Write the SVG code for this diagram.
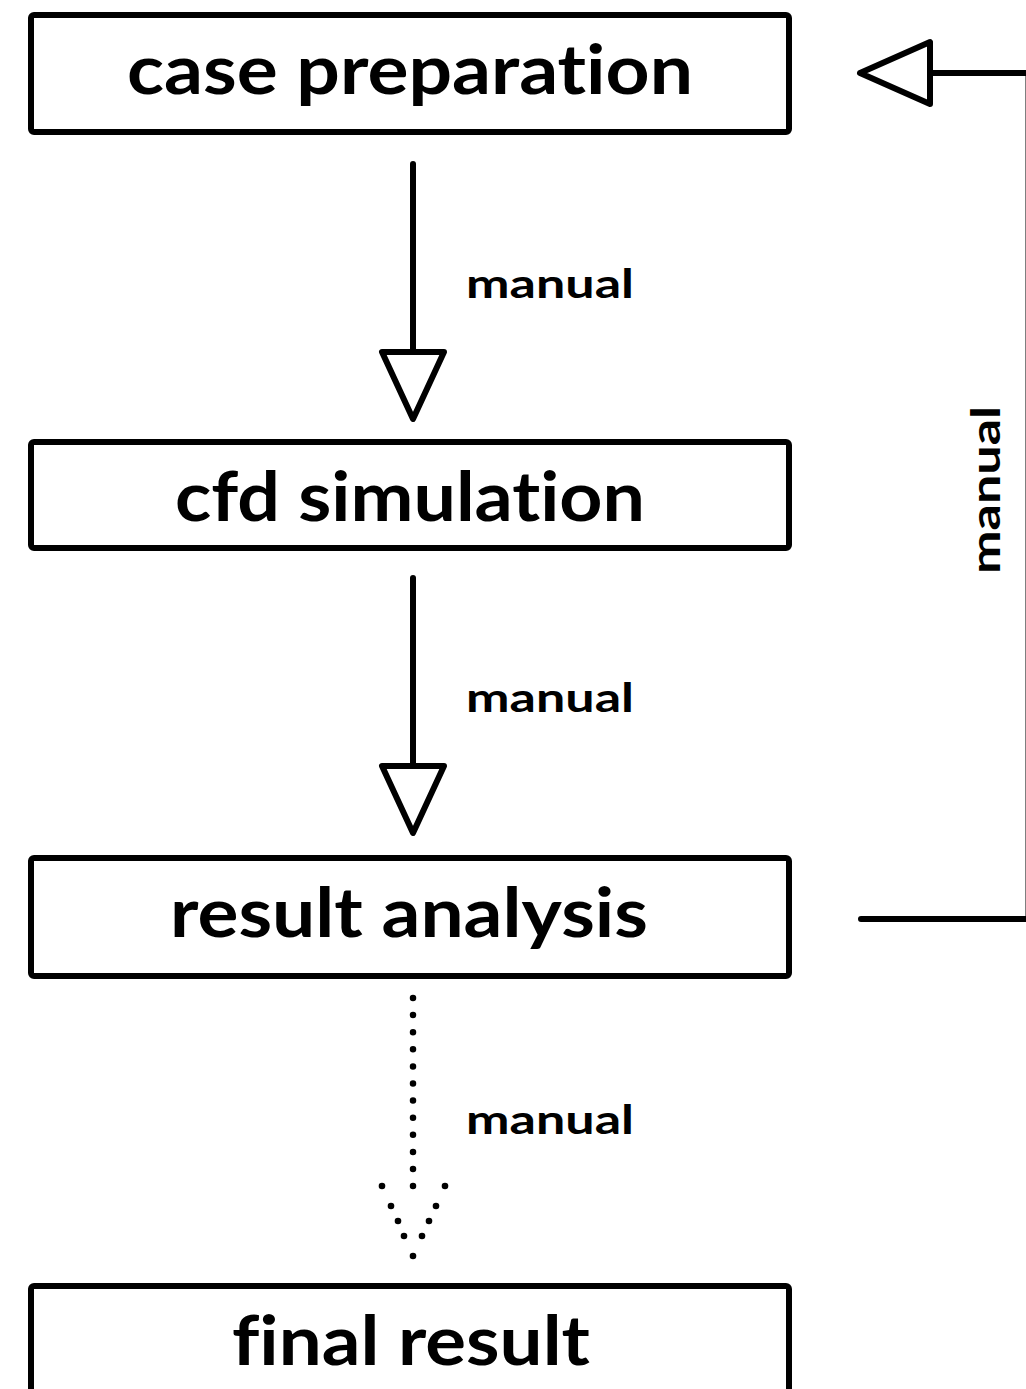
<svg xmlns="http://www.w3.org/2000/svg" width="1026" height="1389" viewBox="0 0 1026 1389">
  <style>
    .box { fill: #ffffff; stroke: #000000; stroke-width: 6; stroke-linejoin: round; }
    .title { font-family: Lato, "Open Sans", "DejaVu Sans", sans-serif; font-weight: 700; font-size: 68px; fill: #000000; text-anchor: middle; font-variant-ligatures: none; }
    .label { font-family: Lato, "Open Sans", "DejaVu Sans", sans-serif; font-weight: 700; font-size: 41px; fill: #000000; font-variant-ligatures: none; }
    .line { fill: none; stroke: #000000; stroke-width: 6; stroke-linecap: round; stroke-linejoin: round; }
    .head { fill: #ffffff; stroke: #000000; stroke-width: 6; stroke-linejoin: round; }
    .dotted { fill: none; stroke: #000000; stroke-width: 6.5; stroke-linecap: round; stroke-dasharray: 0 17.1; }
    .dot { fill: #000000; }
  </style>

  <rect width="1026" height="1389" fill="#ffffff"/>

  <!-- process steps -->
  <g id="case-preparation">
    <rect class="box" x="31" y="15" width="758" height="117" rx="3"/>
    <text class="title" x="410" y="94" textLength="566" lengthAdjust="spacingAndGlyphs">case preparation</text>
  </g>
  <g id="cfd-simulation">
    <rect class="box" x="31" y="442" width="758" height="106" rx="3"/>
    <text class="title" x="410" y="521" textLength="470" lengthAdjust="spacingAndGlyphs">cfd simulation</text>
  </g>
  <g id="result-analysis">
    <rect class="box" x="31" y="858" width="758" height="118" rx="3"/>
    <text class="title" x="409" y="937" textLength="478" lengthAdjust="spacingAndGlyphs">result analysis</text>
  </g>
  <g id="final-result">
    <rect class="box" x="31" y="1286" width="758" height="130" rx="3"/>
    <text class="title" x="411" y="1365" textLength="358" lengthAdjust="spacingAndGlyphs">final result</text>
  </g>

  <!-- connectors -->
  <g id="connectors">
    <!-- case preparation to cfd simulation -->
    <line class="line" x1="413" y1="164" x2="413" y2="352"/>
    <polygon class="head" points="382,352 444,352 413,419"/>
    <text class="label" x="466" y="298" textLength="168" lengthAdjust="spacingAndGlyphs">manual</text>

    <!-- cfd simulation to result analysis -->
    <line class="line" x1="413" y1="578" x2="413" y2="766"/>
    <polygon class="head" points="382,766 444,766 413,833"/>
    <text class="label" x="466" y="712" textLength="168" lengthAdjust="spacingAndGlyphs">manual</text>

    <!-- result analysis to final result (dotted) -->
    <line class="dotted" x1="413" y1="998" x2="413" y2="1187"/>
    <g id="dotted-head">
      <circle class="dot" cx="382" cy="1186" r="3.3"/>
      <circle class="dot" cx="445" cy="1186" r="3.3"/>
      <circle class="dot" cx="391" cy="1206" r="3.3"/>
      <circle class="dot" cx="436" cy="1206" r="3.3"/>
      <circle class="dot" cx="398" cy="1221" r="3.3"/>
      <circle class="dot" cx="429" cy="1221" r="3.3"/>
      <circle class="dot" cx="404" cy="1236" r="3.3"/>
      <circle class="dot" cx="422" cy="1236" r="3.3"/>
      <circle class="dot" cx="413" cy="1256" r="3.3"/>
    </g>
    <text class="label" x="466" y="1134" textLength="168" lengthAdjust="spacingAndGlyphs">manual</text>

    <!-- feedback loop: result analysis back to case preparation -->
    <path class="line" d="M 861 919 L 1028.5 919 L 1028.5 73 L 930 73"/>
    <polygon class="head" points="930,42 930,104 860,73"/>
    <text class="label" transform="translate(1000 574) rotate(-90)" textLength="168" lengthAdjust="spacingAndGlyphs">manual</text>
  </g>
</svg>
